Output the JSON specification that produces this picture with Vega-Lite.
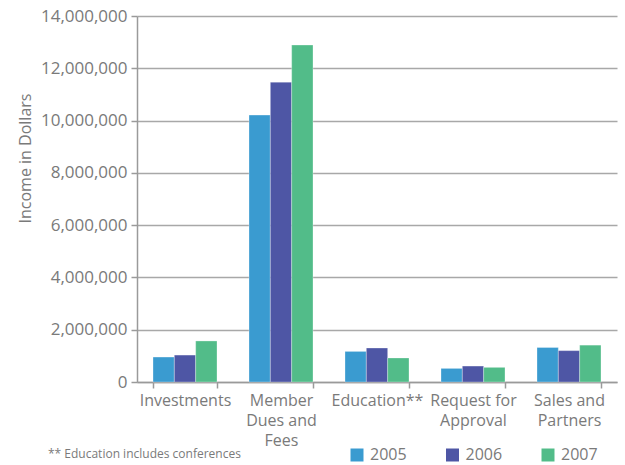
{
  "$schema": "https://vega.github.io/schema/vega-lite/v6.json",
  "width": 480,
  "height": 366,
  "autosize": "none",
  "padding": {"left": 137, "top": 16, "right": 8, "bottom": 83},
  "background": "white",
  "config": {
    "font": "Open Sans",
    "view": {"stroke": null}
  },
  "title": {
    "text": "** Education includes conferences",
    "orient": "bottom",
    "anchor": "start",
    "frame": "group",
    "dx": -89,
    "offset": -14,
    "fontSize": 12,
    "fontWeight": "normal",
    "color": "#7a7a7a"
  },
  "data": {
    "values": [
      {"category": "Investments", "year": "2005", "value": 955000},
      {"category": "Investments", "year": "2006", "value": 1030000},
      {"category": "Investments", "year": "2007", "value": 1570000},
      {"category": "Member Dues and Fees", "year": "2005", "value": 10210000},
      {"category": "Member Dues and Fees", "year": "2006", "value": 11470000},
      {"category": "Member Dues and Fees", "year": "2007", "value": 12890000},
      {"category": "Education**", "year": "2005", "value": 1170000},
      {"category": "Education**", "year": "2006", "value": 1300000},
      {"category": "Education**", "year": "2007", "value": 920000},
      {"category": "Request for Approval", "year": "2005", "value": 520000},
      {"category": "Request for Approval", "year": "2006", "value": 610000},
      {"category": "Request for Approval", "year": "2007", "value": 560000},
      {"category": "Sales and Partners", "year": "2005", "value": 1320000},
      {"category": "Sales and Partners", "year": "2006", "value": 1200000},
      {"category": "Sales and Partners", "year": "2007", "value": 1410000}
    ]
  },
  "mark": {"type": "bar", "stroke": "#ffffff", "strokeWidth": 0.5, "strokeOpacity": 0.6},
  "encoding": {
    "x": {
      "field": "category",
      "type": "nominal",
      "sort": ["Investments", "Member Dues and Fees", "Education**", "Request for Approval", "Sales and Partners"],
      "scale": {"paddingInner": 0.3333, "paddingOuter": 0.1667},
      "axis": {
        "title": null,
        "labelAngle": 0,
        "tickBand": "extent",
        "tickSize": 6,
        "tickColor": "#9a9a9a",
        "tickWidth": 1.5,
        "domainColor": "#9a9a9a",
        "domainWidth": 1.5,
        "labelFontSize": 16,
        "labelColor": "#7a7a7a",
        "labelPadding": 4,
        "labelLineHeight": 20,
        "labelBaseline": "top",
        "labelExpr": "datum.label == 'Member Dues and Fees' ? ['Member', 'Dues and', 'Fees'] : datum.label == 'Request for Approval' ? ['Request for', 'Approval'] : datum.label == 'Sales and Partners' ? ['Sales and', 'Partners'] : datum.label",
        "grid": false
      }
    },
    "xOffset": {"field": "year", "type": "nominal"},
    "y": {
      "field": "value",
      "type": "quantitative",
      "scale": {"domain": [0, 14000000], "nice": false},
      "axis": {
        "title": "Income in Dollars",
        "titleFontSize": 16,
        "titleFontWeight": "normal",
        "titleColor": "#7a7a7a",
        "titleX": -112,
        "titleY": 142,
        "titleAlign": "center",
        "titleBaseline": "middle",
        "values": [0, 2000000, 4000000, 6000000, 8000000, 10000000, 12000000, 14000000],
        "format": ",.0f",
        "labelFontSize": 17,
        "labelColor": "#7a7a7a",
        "labelPadding": 4,
        "tickSize": 6,
        "tickColor": "#9a9a9a",
        "tickWidth": 1.5,
        "domainColor": "#9a9a9a",
        "domainWidth": 1.5,
        "grid": true,
        "gridColor": "#a8a8a8",
        "gridWidth": 1.5
      }
    },
    "color": {
      "field": "year",
      "type": "nominal",
      "scale": {"domain": ["2005", "2006", "2007"], "range": ["#3a9bd0", "#4e56a5", "#52bc89"]},
      "legend": {
        "title": null,
        "orient": "none",
        "legendX": 212,
        "legendY": 431,
        "direction": "horizontal",
        "symbolType": "square",
        "symbolSize": 169,
        "symbolStrokeWidth": 0,
        "labelFontSize": 16,
        "labelColor": "#7a7a7a",
        "labelOffset": 5,
        "columnPadding": 37.5
      }
    }
  }
}
